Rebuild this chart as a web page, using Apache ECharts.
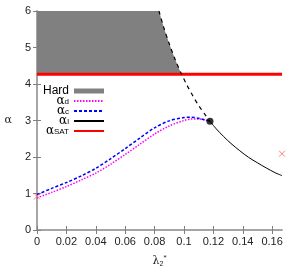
<!DOCTYPE html>
<html>
<head>
<meta charset="utf-8">
<script src="https://cdn.jsdelivr.net/npm/echarts@6/dist/echarts.min.js"></script>
<style>html,body{margin:0;padding:0;background:#fff}#c{width:300px;height:273px}</style>
</head>
<body>
<div id="c"></div>
<script>
// ---- data ----
const xTicks = [0, 0.02, 0.04, 0.06, 0.08, 0.1, 0.12, 0.14, 0.16];
const yTicks = [0, 1, 2, 3, 4, 5, 6];
const xMax = 0.1667;

const lambdaCurve = [0, 0.01, 0.02, 0.03, 0.04, 0.05, 0.06, 0.07, 0.08, 0.09, 0.1, 0.105, 0.11, 0.1177];
const alphaC = [0.97, 1.14, 1.30, 1.48, 1.69, 1.95, 2.23, 2.52, 2.80, 2.99, 3.08, 3.09, 3.06, 2.98];
const alphaD = [0.88, 1.03, 1.19, 1.37, 1.56, 1.80, 2.07, 2.35, 2.63, 2.85, 3.00, 3.04, 3.04, 2.98];

const lambdaLUnstable = [0.083, 0.086, 0.09, 0.094, 0.098, 0.102, 0.106, 0.11, 0.114, 0.1177];
const alphaLUnstable = [6.0, 5.58, 5.10, 4.67, 4.30, 3.97, 3.68, 3.41, 3.18, 2.98];
const lambdaLStable = [0.1177, 0.122, 0.127, 0.132, 0.138, 0.144, 0.15, 0.156, 0.162, 0.1667];
const alphaLStable = [2.98, 2.77, 2.56, 2.37, 2.17, 1.99, 1.84, 1.70, 1.57, 1.49];

const alphaSAT = 4.267;
const hardX = [0, 0.083, 0.086, 0.09, 0.094, 0.0982, 0];
const hardY = [6, 6, 5.58, 5.10, 4.67, 4.267, 4.267];

const tipPoint = [0.1177, 2.98];
const crossX = [0, 0.1667];
const crossY = [0.92, 2.09];

const zip = (a, b) => a.map((v, i) => [v, b[i]]);

// ---- chart ----
const chart = echarts.init(document.getElementById('c'), null, {renderer: 'canvas'});
const frame = {show: true, lineStyle: {color: '#a0a0a0', width: 1.5}};
const sub = {fontSize: 8, lineHeight: 2, verticalAlign: 'bottom', fontFamily: 'Liberation Sans', color: '#000'};
const legRich = {
  a: {fontSize: 12, lineHeight: 10, fontFamily: 'DejaVu Serif', color: '#000'},
  t: {fontSize: 12, lineHeight: 10, fontFamily: 'Liberation Sans', color: '#000'},
  s: sub
};
const legendNames = {
  'Hard': '{t|Hard}',
  'ad': '{a|α}{s|d}',
  'ac': '{a|α}{s|c}',
  'al': '{a|α}{s|l}',
  'aSAT': '{a|α}{s|SAT}'
};

chart.setOption({
  animation: false,
  grid: {left: 37, right: 18, top: 11, bottom: 43},
  legend: {
    orient: 'vertical', align: 'right', right: 195, top: 85, padding: 0,
    itemWidth: 30, itemHeight: 5, itemGap: -2,
    itemStyle: {opacity: 0},
    data: [
      {name: 'Hard', icon: 'rect', itemStyle: {color: '#808080', opacity: 1}},
      'ad', 'ac', 'al', 'aSAT'
    ],
    formatter: n => legendNames[n],
    textStyle: {rich: legRich}
  },
  xAxis: [{
    type: 'value', position: 'bottom', min: 0, max: xMax,
    axisLine: frame,
    axisTick: {inside: true, length: 4, customValues: xTicks, lineStyle: {color: '#808080'}},
    axisLabel: {customValues: xTicks, fontSize: 11, color: '#222', margin: 6, fontFamily: 'Liberation Sans'},
    splitLine: {show: false},
    name: '{l|λ}{s|2}{p|*}', nameLocation: 'middle', nameGap: 24,
    nameTextStyle: {rich: {
      l: {fontSize: 11, lineHeight: 10, fontFamily: 'DejaVu Serif', color: '#222'},
      s: {fontSize: 7, lineHeight: 2, verticalAlign: 'bottom', color: '#222', fontFamily: 'Liberation Sans'},
      p: {fontSize: 8, lineHeight: 14, verticalAlign: 'top', color: '#222', fontFamily: 'Liberation Sans'}
    }}
  }, {
    type: 'value', position: 'top', min: 0, max: xMax,
    axisLine: frame,
    axisTick: {inside: true, length: 4, customValues: xTicks, lineStyle: {color: '#808080'}},
    axisLabel: {show: false},
    splitLine: {show: false}
  }],
  yAxis: [{
    type: 'value', position: 'left', min: 0, max: 6, interval: 1,
    axisLine: frame,
    axisTick: {inside: true, length: 4, customValues: yTicks, lineStyle: {color: '#808080'}},
    axisLabel: {customValues: yTicks, fontSize: 11, color: '#222', margin: 6, fontFamily: 'Liberation Sans'},
    splitLine: {show: false},
    name: 'α', nameLocation: 'middle', nameGap: 25, nameRotate: 0,
    nameTextStyle: {fontSize: 11, color: '#222', fontFamily: 'DejaVu Serif', padding: [8, 0, 0, 0]}
  }, {
    type: 'value', position: 'right', min: 0, max: 6, interval: 1,
    axisLine: frame,
    axisTick: {inside: true, length: 4, customValues: yTicks, lineStyle: {color: '#808080'}},
    axisLabel: {show: false},
    splitLine: {show: false}
  }],
  series: [
    {
      name: 'Hard', type: 'custom', z: 1,
      data: [0],
      renderItem: (params, api) => {
        const pts = hardX.map((x, i) => api.coord([x, hardY[i]]));
        return {type: 'polygon', shape: {points: pts}, style: {fill: '#808080'}};
      },
      itemStyle: {color: '#808080'}
    },
    {
      name: 'aSAT', type: 'line', z: 3, symbol: 'none',
      data: [[0, alphaSAT], [xMax, alphaSAT]],
      lineStyle: {color: '#ff0000', width: 3}, itemStyle: {color: '#ff0000'}
    },
    {
      name: 'ad', type: 'line', z: 4, symbol: 'none', smooth: 0.3,
      data: zip(lambdaCurve, alphaD),
      lineStyle: {color: '#ff00ff', width: 1.5, type: [1.5, 1.5]}, itemStyle: {color: '#ff00ff'}
    },
    {
      name: 'ac', type: 'line', z: 4, symbol: 'none', smooth: 0.3,
      data: zip(lambdaCurve, alphaC),
      lineStyle: {color: '#0000ff', width: 1.5, type: [3, 2]}, itemStyle: {color: '#0000ff'}
    },
    {
      name: 'al-unstable', type: 'line', z: 5, symbol: 'none', smooth: 0.3,
      data: zip(lambdaLUnstable, alphaLUnstable),
      lineStyle: {color: '#000', width: 1.2, type: [4, 4]}
    },
    {
      name: 'al', type: 'line', z: 5, symbol: 'none', smooth: 0.3,
      data: zip(lambdaLStable, alphaLStable),
      lineStyle: {color: '#000', width: 1}, itemStyle: {color: '#000'}
    },
    {
      name: 'tip', type: 'scatter', z: 6, symbolSize: 7,
      data: [tipPoint], itemStyle: {color: '#000'}
    },
    {
      name: 'cross', type: 'scatter', z: 6, symbolSize: 6, clip: false,
      symbol: 'path://M0,0L10,10M10,0L0,10',
      data: zip(crossX, crossY),
      itemStyle: {color: 'none', borderColor: '#ff6060', borderWidth: 1}
    }
  ]
});
</script>
</body>
</html>
